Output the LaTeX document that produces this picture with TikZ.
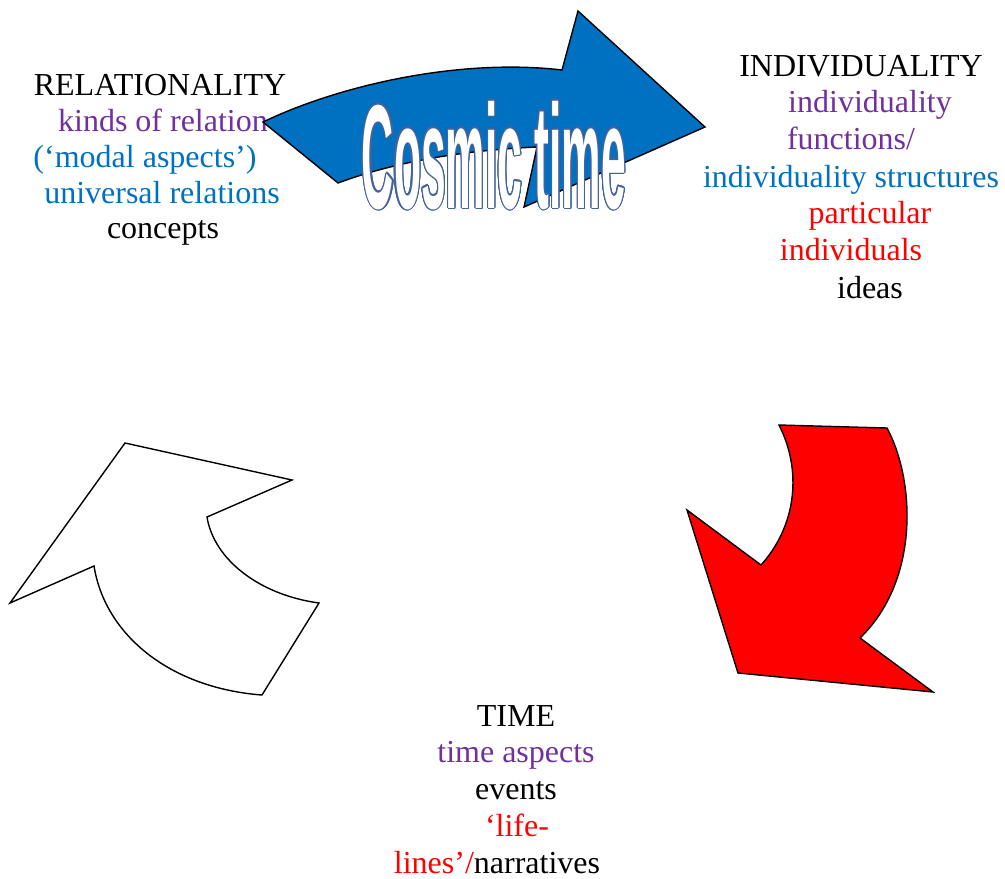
\documentclass[tikz,border=0pt]{standalone}
\usepackage{fontspec}
\setmainfont{Liberation Serif}
\newfontfamily\cosmicfont[FakeStretch=0.30]{Liberation Sans Bold}
\usepackage{contour}
\contourlength{1.1pt}
\contournumber{24}
\definecolor{mspurple}{HTML}{7030A0}
\definecolor{msblue}{HTML}{0070C0}
\definecolor{msred}{HTML}{FF0000}
\definecolor{outlineblue}{HTML}{44639C}
\begin{document}
\begin{tikzpicture}[x=1pt,y=-1pt,
  lbl/.style={anchor=base,inner sep=0pt,font=\fontsize{32}{37}\selectfont},
  arrowshape/.style={draw=black,line width=1.4pt,line join=miter}]
\useasboundingbox (0,0) rectangle (1005,879);
% RELATIONALITY block
\node[lbl] (r1) at (160,95) {RELATIONALITY};
\node[lbl,text=mspurple] (r2) at (163,131) {kinds of relation};
\node[lbl,text=msblue] (r3) at (145,167) {(`modal aspects')};
\node[lbl,text=msblue] (r4) at (162,203) {universal relations};
\node[lbl] (r5) at (163,238) {concepts};
% INDIVIDUALITY block
\node[lbl] (i1) at (861,76) {INDIVIDUALITY};
\node[lbl,text=mspurple] (i2) at (870,112) {individuality};
\node[lbl,text=mspurple] (i3) at (851,149) {functions/};
\node[lbl,text=msblue] (i4) at (851,187) {individuality structures};
\node[lbl,text=msred] (i5) at (870,223) {particular};
\node[lbl,text=msred] (i6) at (851,260) {individuals};
\node[lbl] (i7) at (870,298) {ideas};
% TIME block
\node[lbl] (t1) at (516,726) {TIME};
\node[lbl,text=mspurple] (t2) at (516,762) {time aspects};
\node[lbl] (t3) at (516,799) {events};
\node[lbl,text=msred] (t4) at (517,836) {`life-};
\node[lbl] (t5) at (497,873) {\textcolor{msred}{lines'/}narratives};
% blue arrow
\path[arrowshape,fill=msblue] (263,122) .. controls (340,85) and (460,58) .. (562,70)
  -- (578,11) -- (705,127) -- (524,207) -- (537,147)
  .. controls (470,150) and (400,160) .. (338,183) -- cycle;
% Cosmic time
\node[anchor=base,inner sep=0pt] (cosmic) at (494,208)
  {\fontsize{148}{150}\cosmicfont\contour{outlineblue}{\color{white}Cosmic time}};
% red arrow
\path[arrowshape,fill=msred] (779,425) -- (887,428)
  .. controls (915,480) and (920,580) .. (860,638)
  -- (933,692) -- (738,673) -- (687,510) -- (761,565)
  .. controls (797,525) and (802,470) .. (779,425) -- cycle;
% white arrow
\path[arrowshape,fill=white] (125,443) -- (292,480) -- (207,517)
  .. controls (214,560) and (260,595) .. (319,603)
  -- (262,695) .. controls (170,688) and (105,635) .. (94,566)
  -- (10,603) -- cycle;
\end{tikzpicture}
\end{document}
